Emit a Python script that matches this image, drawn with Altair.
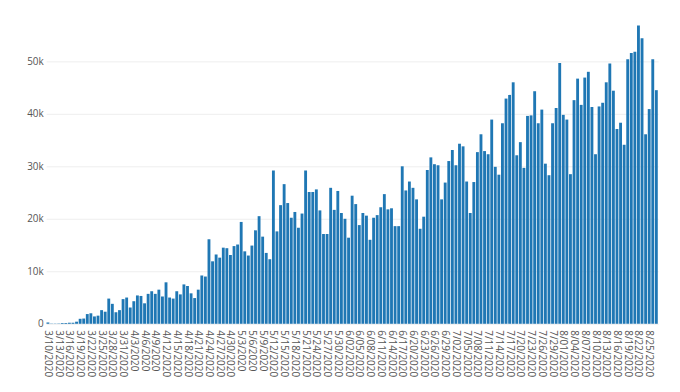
import datetime as dt
import altair as alt
import pandas as pd

start = dt.date(2020, 3, 10)

# daily values (171 days: 3/10/2020 .. 8/27/2020)
new_cases = [
    250, 50, 50, 60, 150, 150, 200, 200, 400, 950,
    1000, 1850, 2000, 1400, 1550, 2600, 2300, 4800, 3800, 2200,
    2600, 4700, 5000, 3100, 4300, 5400, 5300, 3900, 5700, 6200,
    5700, 6500, 5200, 7900, 5000, 4800, 6200, 5600, 7500, 7200,
    5800, 4900, 6500, 9200, 9000, 16100, 11900, 13200, 12600, 14500,
    14400, 13100, 14800, 15100, 19400, 13800, 13000, 14900, 17800, 20500,
    16600, 13500, 12300, 29200, 17600, 22600, 26600, 23000, 20200, 21300,
    18300, 21000, 29200, 25100, 25100, 25600, 21600, 17100, 17100, 25900,
    21700, 25300, 21100, 20000, 16400, 24400, 22800, 18800, 21100, 20600,
    16000, 20200, 20700, 22200, 24700, 21800, 22000, 18600, 18600, 30000,
    25400, 27100, 25900, 23700, 18100, 20400, 29300, 31700, 30400, 30200,
    23700, 26900, 31000, 33100, 30200, 34300, 33800, 27100, 21100, 27000,
    32700, 36100, 32900, 32300, 38900, 29900, 28400, 38200, 42900, 43600,
    46000, 32100, 34600, 29700, 39600, 39700, 44300, 38200, 40800, 30500,
    28300, 38200, 41100, 49700, 39800, 38900, 28500, 42600, 46700, 41700,
    46900, 48000, 41300, 32300, 41400, 42100, 46000, 49600, 44400, 37100,
    38300, 34100, 50400, 51600, 51800, 56800, 54400, 36100, 40900, 50400,
    44500,
]


def label(d):
    if d.month < 6:
        return f"{d.month}/{d.day}/{d.year}"
    return f"{d.month}/{d.day:02d}/{d.year}"


dates = [label(start + dt.timedelta(days=i)) for i in range(len(new_cases))]
tick_labels = dates[::3]
y_ticks = [0, 10000, 20000, 30000, 40000, 50000]

df = pd.DataFrame({"date": dates, "cases": new_cases})

text_color = "#555555"

chart = (
    alt.Chart(df)
    .mark_bar(color="#1f77b4")
    .encode(
        x=alt.X(
            "date:N",
            sort=None,
            scale=alt.Scale(paddingInner=0.2, paddingOuter=0.1),
            axis=alt.Axis(
                values=tick_labels,
                labelAngle=90,
                title=None,
                ticks=False,
                tickSize=0,
                domain=False,
                grid=False,
                labelPadding=6,
                labelFontSize=10,
                labelColor=text_color,
                labelOverlap=False,
            ),
        ),
        y=alt.Y(
            "cases:Q",
            scale=alt.Scale(domain=[0, 59800], nice=False),
            axis=alt.Axis(
                values=y_ticks,
                labelExpr="datum.value == 0 ? '0' : (datum.value / 1000) + 'k'",
                title=None,
                ticks=False,
                tickSize=0,
                domain=False,
                labelPadding=3,
                labelFontSize=10,
                labelColor=text_color,
                gridColor="#eeeeee",
                gridWidth=1,
            ),
        ),
    )
    .properties(
        width=618,
        height=317,
        autosize=alt.AutoSizeParams(type="none"),
        padding={"left": 38.5, "top": 0, "right": 14, "bottom": 66},
    )
    .configure(font="Open Sans")
    .configure_view(strokeWidth=0, stroke="transparent")
)

chart.save("out.html", embed_options={"renderer": "svg", "actions": False})
